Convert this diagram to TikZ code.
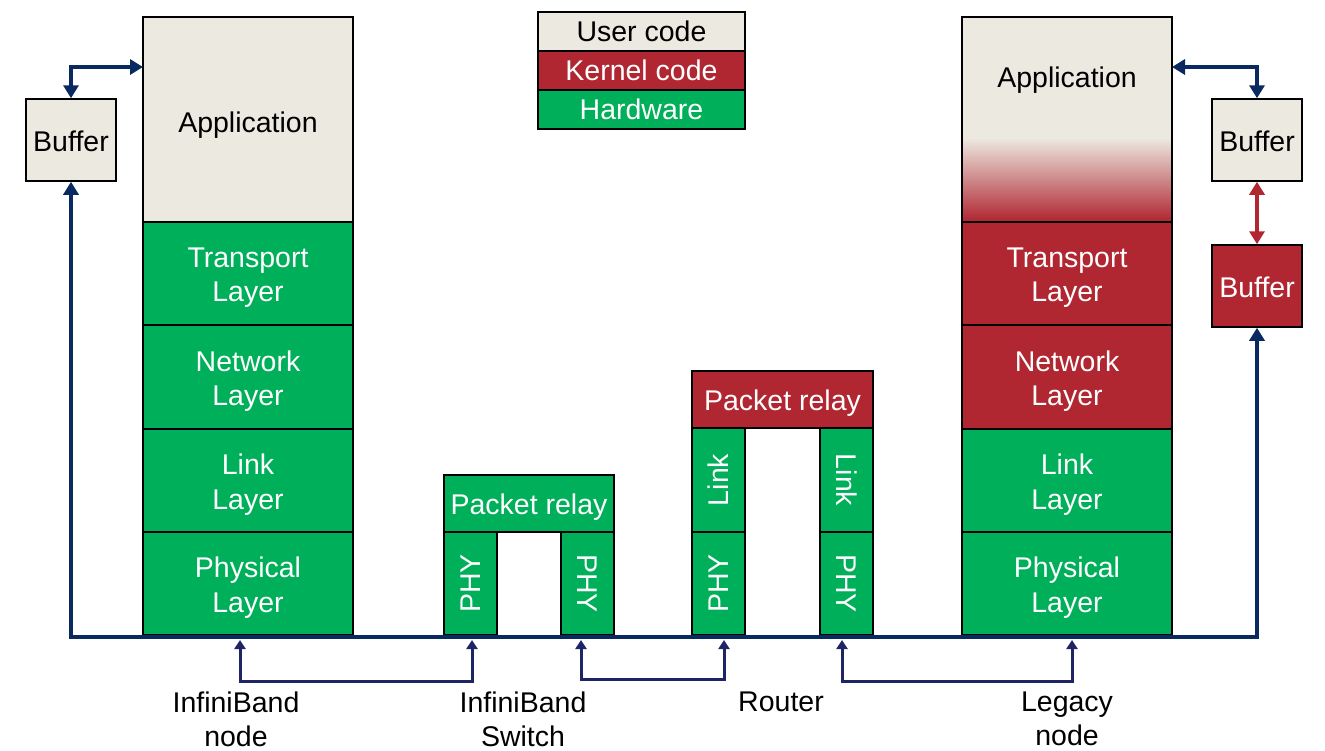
\documentclass[tikz,border=0pt]{standalone}
\usepackage{fontspec}
\setmainfont{Liberation Sans}
\usetikzlibrary{arrows.meta,calc}
\definecolor{beige}{RGB}{236,233,225}
\definecolor{kred}{RGB}{176,39,50}
\definecolor{hgreen}{RGB}{0,175,90}
\definecolor{navy}{RGB}{8,42,96}
\definecolor{navyb}{RGB}{30,36,102}
\begin{document}
\begin{tikzpicture}[x=1pt,y=-1pt,
  box/.style={draw=black, line width=1.5pt, inner sep=0pt, align=center,
    font=\fontsize{28.5}{34.5}\selectfont},
  user/.style={box, fill=beige, text=black},
  kern/.style={box, fill=kred, text=white},
  hw/.style={box, fill=hgreen, text=white},
  txw/.style={inner sep=0pt, align=center, text=white, font=\fontsize{28.5}{34.5}\selectfont},
  txb/.style={txw, text=black},
  lbl/.style={inner sep=0pt, align=center, anchor=north,
    font=\fontsize{28.5}{33.5}\selectfont},
  topar/.style={draw=navy, line width=4pt, {Triangle[length=13pt,width=15pt]}-{Triangle[length=13pt,width=15pt]}},
  redar/.style={draw=kred, line width=4pt, {Triangle[length=13pt,width=15pt]}-{Triangle[length=13pt,width=15pt]}},
  botar/.style={draw=navyb, line width=3pt, {Triangle[length=9pt,width=11pt]}-{Triangle[length=9pt,width=11pt]}},
]
\useasboundingbox (0,0) rectangle (1325,750);

% ---- legend
\node[user, minimum width=207pt, minimum height=39pt] (lgU) at (641.5,31.5) {User code};
\node[kern, minimum width=207pt, minimum height=39pt] (lgK) at (641.5,70.5) {Kernel code};
\node[hw,   minimum width=207pt, minimum height=39pt] (lgH) at (641.5,109.5) {Hardware};

% ---- left InfiniBand node
\node[user, minimum width=210pt, minimum height=205pt, label={[txb, yshift=-6pt]center:Application}] (lapp) at (248,119.5) {};
\node[hw, minimum width=210pt, minimum height=103pt, label={[txw, yshift=-4pt]center:Transport\\Layer}] (ltra) at (248,273.5) {};
\node[hw, minimum width=210pt, minimum height=104pt, label={[txw, yshift=-4pt]center:Network\\Layer}] (lnet) at (248,377) {};
\node[hw, minimum width=210pt, minimum height=103pt, label={[txw, yshift=-4pt]center:Link\\Layer}] (llnk) at (248,480.5) {};
\node[hw, minimum width=210pt, minimum height=103pt, label={[txw, yshift=-4pt]center:Physical\\Layer}] (lphy) at (248,583.5) {};
\node[user, minimum width=90pt, minimum height=82pt, label={[txb, yshift=-1pt]center:Buffer}] (lbuf) at (71,140) {};

% ---- InfiniBand switch
\node[hw, minimum width=170pt, minimum height=57pt, label={[txw, yshift=-4pt]center:Packet relay}] (swrel) at (529,503.5) {};
\node[hw, rotate=90, minimum width=103pt, minimum height=53pt] (swp1) at (470.5,583.5) {PHY};
\node[hw, rotate=-90, minimum width=103pt, minimum height=53pt] (swp2) at (587.5,583.5) {PHY};

% ---- router
\node[kern, minimum width=181pt, minimum height=57pt, label={[txw, yshift=-4pt]center:Packet relay}] (rtrel) at (782.5,399.5) {};
\node[hw, rotate=90, minimum width=104pt, minimum height=53pt] (rtl1) at (718.5,480) {Link};
\node[hw, rotate=90, minimum width=103pt, minimum height=53pt] (rtp1) at (718.5,583.5) {PHY};
\node[hw, rotate=-90, minimum width=104pt, minimum height=53pt] (rtl2) at (846.5,480) {Link};
\node[hw, rotate=-90, minimum width=103pt, minimum height=53pt] (rtp2) at (846.5,583.5) {PHY};

% ---- legacy node
\node[user, minimum width=210pt, minimum height=205pt] (rapp) at (1067,119.5) {};
\shade[top color=beige, bottom color=kred] (963,138) rectangle (1171,221);
\node[draw=black, line width=1.5pt, minimum width=210pt, minimum height=205pt, inner sep=0pt] (rappb) at (1067,119.5) {};
\node[txb] (rappt) at (1067,80) {Application};
\node[kern, minimum width=210pt, minimum height=103pt, label={[txw, yshift=-4pt]center:Transport\\Layer}] (rtra) at (1067,273.5) {};
\node[kern, minimum width=210pt, minimum height=104pt, label={[txw, yshift=-4pt]center:Network\\Layer}] (rnet) at (1067,377) {};
\node[hw, minimum width=210pt, minimum height=103pt, label={[txw, yshift=-4pt]center:Link\\Layer}] (rlnk) at (1067,480.5) {};
\node[hw, minimum width=210pt, minimum height=103pt, label={[txw, yshift=-4pt]center:Physical\\Layer}] (rphy) at (1067,583.5) {};
\node[user, minimum width=90pt, minimum height=82pt, label={[txb, yshift=-1pt]center:Buffer}] (rbuf) at (1257,140) {};
\node[kern, minimum width=90pt, minimum height=82pt, label={[txw, yshift=-1pt]center:Buffer}] (rbuf2) at (1257,286) {};

% ---- connectors
\coordinate (tl) at (143,67);
\coordinate (tr) at (1172,67);
\coordinate (bus) at (0,637);
\draw[topar] (lbuf.north) |- (tl);
\draw[topar] (tr) -| (rbuf.north);
\draw[redar] (rbuf.south) -- (rbuf2.north);
\draw[topar] (lbuf.south) -- (lbuf.south |- bus) -- (rbuf2.south |- bus) -- (rbuf2.south);

\coordinate (b1s) at (240,640); \coordinate (b1e) at (472,640);
\coordinate (b2s) at (581,640); \coordinate (b2e) at (724,640);
\coordinate (b3s) at (842,640); \coordinate (b3e) at (1072,640);
\draw[botar] (b1s) -- ++(0,41) -| (b1e);
\draw[botar] (b2s) -- ++(0,39) -| (b2e);
\draw[botar] (b3s) -- ++(0,41) -| (b3e);

% ---- labels
\node[lbl] (tIB) at (236,692) {InfiniBand\\node};
\node[lbl] (tSW) at (523,692) {InfiniBand\\Switch};
\node[lbl] (tRT) at (781,692) {Router};
\node[lbl] (tLG) at (1067,692) {Legacy\\node};
\end{tikzpicture}
\end{document}
